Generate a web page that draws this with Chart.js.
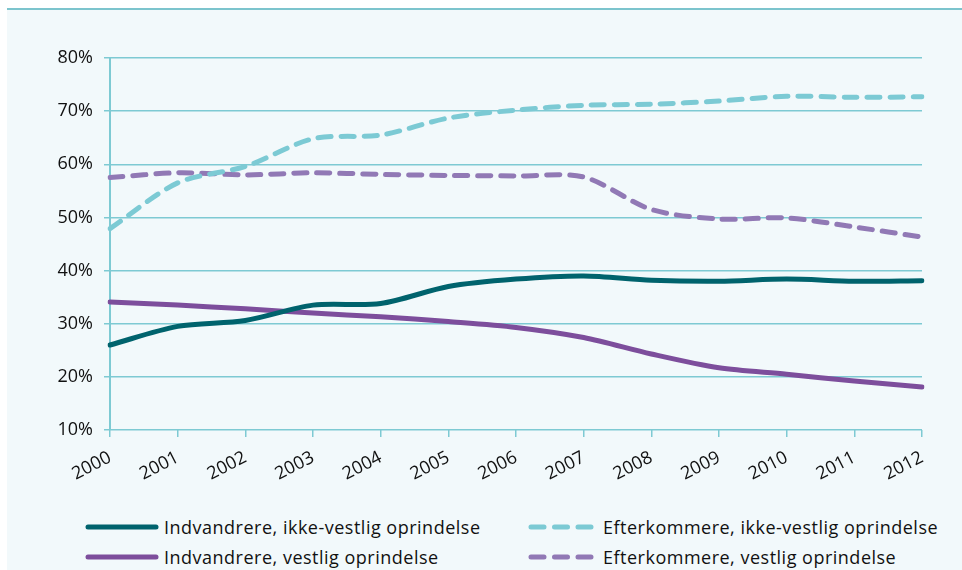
<!DOCTYPE html>
<html>
<head>
<meta charset="utf-8">
<script src="https://cdn.jsdelivr.net/npm/chart.js@4.4.0/dist/chart.umd.min.js"></script>
<style>
  html, body { margin: 0; padding: 0; background: #fff; }
  body { width: 962px; height: 570px; position: relative; overflow: hidden; font-family: "Open Sans", sans-serif; }
  #panel { position: absolute; left: 7px; top: 8px; right: 0; bottom: 0; background: #f2f9fb; border-top: 2px solid #7cc4cd; }
  #chartBox { position: absolute; left: 0; top: 0; width: 962px; height: 480px; }
  .legend-item { position: absolute; height: 24px; display: flex; align-items: center; font-size: 18px; letter-spacing: 0.5px; color: #111; white-space: nowrap; }
  .legend-item svg { margin-right: 5px; }
</style>
</head>
<body>
<div id="panel"></div>
<div id="chartBox"><canvas id="migChart" width="962" height="480"></canvas></div>
<div id="legend"></div>
<script>
// data (percent)
const years = ['2000', '2001', '2002', '2003', '2004', '2005', '2006', '2007', '2008', '2009', '2010', '2011', '2012'];
const yTicks = [10, 20, 30, 40, 50, 60, 70, 80];

const seriesNames = [
  'Indvandrere, ikke-vestlig oprindelse',
  'Efterkommere, ikke-vestlig oprindelse',
  'Indvandrere, vestlig oprindelse',
  'Efterkommere, vestlig oprindelse'
];
const indvIkkeVestlig = [26.0, 29.5, 30.6, 33.5, 33.8, 37.0, 38.4, 39.0, 38.2, 38.0, 38.4, 38.0, 38.1];
const efterIkkeVestlig = [47.9, 56.5, 59.6, 64.8, 65.5, 68.7, 70.2, 71.1, 71.3, 71.9, 72.8, 72.6, 72.7];
const indvVestlig = [34.1, 33.5, 32.8, 32.0, 31.3, 30.4, 29.3, 27.4, 24.3, 21.7, 20.5, 19.2, 18.1];
const efterVestlig = [57.5, 58.4, 58.0, 58.4, 58.1, 57.9, 57.8, 57.6, 51.5, 49.7, 49.9, 48.2, 46.3];

const seriesValues = [indvIkkeVestlig, efterIkkeVestlig, indvVestlig, efterVestlig];
const seriesColors = ['#00636d', '#7ccad4', '#7d4e9c', '#9179b5'];
const seriesDashed = [false, true, false, true];

const gridColor = '#7ecad3';
const tickFont = { family: '"Open Sans", sans-serif', size: 18 };

document.addEventListener('DOMContentLoaded', () => {
  const ctx = document.getElementById('migChart').getContext('2d');

  const datasets = seriesNames.map((name, i) => ({
    label: name,
    data: seriesValues[i],
    borderColor: seriesColors[i],
    backgroundColor: seriesColors[i],
    borderWidth: 5,
    borderDash: seriesDashed[i] ? [13, 10] : [],
    borderCapStyle: 'round',
    borderJoinStyle: 'round',
    pointRadius: 0,
    tension: 0.3,
    fill: false
  }));

  new Chart(ctx, {
    type: 'line',
    data: { labels: years, datasets: datasets },
    options: {
      responsive: false,
      animation: false,
      layout: { padding: { top: 58, right: 40, left: 0, bottom: 0 } },
      plugins: {
        legend: { display: false },
        tooltip: { enabled: false }
      },
      scales: {
        x: {
          offset: false,
          grid: { drawOnChartArea: false, color: gridColor, lineWidth: 1.5, tickLength: 7 },
          border: { display: false },
          ticks: { minRotation: 27, maxRotation: 27, color: '#111', font: tickFont, padding: 10 },
          afterFit: scale => { scale.height = 50; }
        },
        y: {
          min: 10,
          max: 80,
          afterBuildTicks: scale => { scale.ticks = yTicks.map(v => ({ value: v })); },
          ticks: { color: '#111', font: tickFont, padding: 11, callback: v => v + '%' },
          grid: { color: gridColor, lineWidth: 1.5, tickLength: 6 },
          border: { color: gridColor, width: 2 },
          afterFit: scale => { scale.width = 110; }
        }
      }
    }
  });

  // legend in two columns, built from the same series
  const legend = document.getElementById('legend');
  const colX = [[88, 68], [531, 64]];
  const rowY = [515, 545];
  seriesNames.forEach((name, i) => {
    const col = i % 2, row = Math.floor(i / 2);
    const w = colX[col][1];
    const item = document.createElement('div');
    item.className = 'legend-item';
    item.style.left = (colX[col][0] - 3) + 'px';
    item.style.top = rowY[row] + 'px';
    const dash = seriesDashed[i] ? ' stroke-dasharray="13 10.5"' : '';
    item.innerHTML =
      '<svg width="' + (w + 6) + '" height="10"><line x1="3" y1="5" x2="' + (w + 3) + '" y2="5" stroke="' +
      seriesColors[i] + '" stroke-width="5" stroke-linecap="round"' + dash + '/></svg><span>' + name + '</span>';
    legend.appendChild(item);
  });
});
</script>
</body>
</html>
